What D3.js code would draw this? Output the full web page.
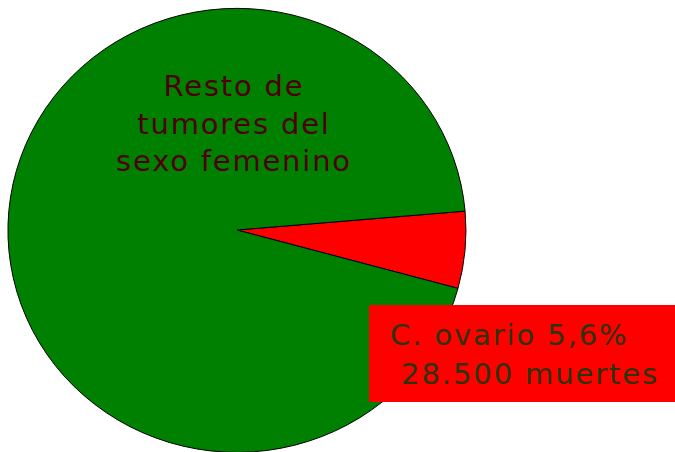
<!DOCTYPE html>
<html>
<head>
<meta charset="utf-8">
<script src="https://cdn.jsdelivr.net/npm/d3@7.9.0/dist/d3.min.js"></script>
<style>
  body { margin: 0; background: #fff; }
  svg { display: block; }
  text { font-family: "DejaVu Sans", sans-serif; }
</style>
</head>
<body>
<svg id="chart" width="675" height="452"></svg>
<script>
const labels = ['C. ovario', 'Resto de tumores del sexo femenino'];
const shares = [5.6, 94.4];
const colorsList = ['#ff0000', '#008000'];
const restoLines = ['Resto de', 'tumores del', 'sexo femenino'];
const ovarioLines = ['C. ovario 5,6%', '\u00a028.500 muertes'];

const svg = d3.select('#chart');
const cx = 237, cy = 230, rx = 229, ry = 222;

// start the small slice just above 3 o'clock
const start = 85.1 * Math.PI / 180;
const pie = d3.pie().sort(null).value((d) => d).startAngle(start).endAngle(start + 2 * Math.PI);
const arcGen = d3.arc().innerRadius(0).outerRadius(1);

const g = svg.append('g').attr('transform', `translate(${cx},${cy}) scale(${rx},${ry})`);
pie(shares).forEach((d, i) => {
    g.append('path')
        .attr('d', arcGen(d))
        .attr('fill', colorsList[i])
        .attr('stroke', '#000')
        .attr('stroke-width', 1)
        .attr('vector-effect', 'non-scaling-stroke')
        .append('title').text(labels[i]);
});

// label for the big slice
const t1 = svg.append('text')
    .attr('text-anchor', 'middle')
    .attr('fill', '#4d0000')
    .attr('font-size', 29)
    .attr('letter-spacing', 1.8);
restoLines.forEach((line, i) => {
    t1.append('tspan').attr('x', 234).attr('y', 96 + i * 37.5).text(line);
});

// callout box for ovario
svg.append('rect')
    .attr('x', 369).attr('y', 305)
    .attr('width', 306).attr('height', 97)
    .attr('fill', colorsList[0]);
const t2 = svg.append('text')
    .attr('fill', '#2b3300')
    .attr('font-size', 29)
    .attr('letter-spacing', 1.9);
ovarioLines.forEach((line, i) => {
    t2.append('tspan').attr('x', 390).attr('y', 345 + i * 39).text(line);
});
</script>
</body>
</html>
